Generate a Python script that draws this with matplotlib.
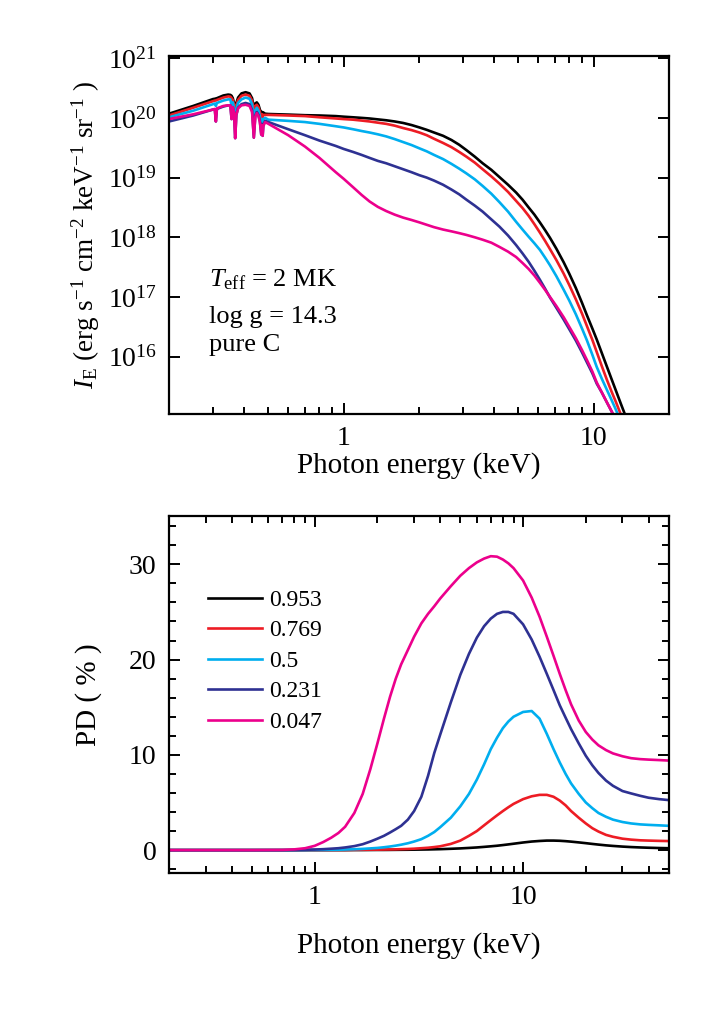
import numpy as np
import matplotlib
matplotlib.use("Agg")
import matplotlib.pyplot as plt
from matplotlib.ticker import LogLocator, NullFormatter, FixedLocator, MultipleLocator, FuncFormatter

plt.rcParams['font.family'] = ['Liberation Serif', 'DejaVu Serif']
plt.rcParams['mathtext.fontset'] = 'custom'
plt.rcParams['mathtext.rm'] = 'Liberation Serif'
plt.rcParams['mathtext.it'] = 'Liberation Serif:italic'
plt.rcParams['mathtext.bf'] = 'Liberation Serif:bold'

# ---------------- data ----------------
labels = ["0.953", "0.769", "0.5", "0.231", "0.047"]
colors = ["#000000", "#ED1C24", "#00AEEF", "#2E3192", "#EC008C"]

# top panel: specific intensity (log10 of I_E)
E_top = [0.20, 0.25, 0.30, 0.305, 0.308, 0.311, 0.33, 0.345, 0.352, 0.356, 0.360, 0.364,
         0.368, 0.372, 0.378, 0.39, 0.405, 0.42, 0.43, 0.437, 0.443, 0.449, 0.456, 0.462,
         0.468, 0.471, 0.474, 0.477, 0.485,
         0.50, 0.60, 0.70, 0.80, 0.93, 1.0, 1.09, 1.18, 1.27, 1.37, 1.48, 1.60, 1.73, 1.87,
         2.01, 2.15, 2.3, 2.5, 2.7, 2.9, 3.1, 3.35, 3.6, 3.9, 4.2, 4.55, 4.9, 5.2, 5.5, 5.8,
         6.1, 6.4, 6.7, 7.1, 7.6, 8.0, 8.5, 9.0, 9.4, 9.9, 10.3, 10.8, 11.3, 11.8, 12.3,
         12.9, 13.4, 14.0, 14.5]
logI_0953 = [20.07, 20.20, 20.315, 20.32, 20.325, 20.33, 20.375, 20.39, 20.385, 20.37, 20.33, 20.25,
             20.15, 20.25, 20.34, 20.41, 20.43, 20.41, 20.33, 20.18, 20.24, 20.26, 20.22, 20.14,
             20.08, 20.10, 20.07, 20.09, 20.07,
             20.065, 20.055, 20.045, 20.04, 20.03, 20.02, 20.01, 20.0, 19.99, 19.975, 19.96, 19.94,
             19.915, 19.88, 19.84, 19.80, 19.755, 19.70, 19.63, 19.55, 19.46, 19.35, 19.24, 19.13,
             19.01, 18.88, 18.75, 18.63, 18.50, 18.38, 18.25, 18.12, 17.99, 17.81, 17.58, 17.39,
             17.15, 16.90, 16.70, 16.47, 16.29, 16.06, 15.84, 15.63, 15.43, 15.20, 15.02, 14.80,
             14.60]
logI_0769 = [20.04, 20.17, 20.28, 20.29, 20.29, 20.30, 20.34, 20.36, 20.355, 20.33, 20.30, 20.22,
             20.10, 20.21, 20.30, 20.37, 20.39, 20.37, 20.29, 20.12, 20.20, 20.22, 20.18, 20.10,
             20.02, 20.06, 20.01, 20.05, 20.05,
             20.05, 20.04, 20.03, 20.01, 19.99, 19.98, 19.97, 19.955, 19.94, 19.92, 19.90, 19.87,
             19.83, 19.795, 19.755, 19.71, 19.65, 19.58, 19.51, 19.43, 19.35, 19.25, 19.14, 19.02,
             18.90, 18.76, 18.61, 18.49, 18.36, 18.22, 18.08, 17.94, 17.80, 17.62, 17.39, 17.20,
             16.96, 16.72, 16.52, 16.28, 16.08, 15.84, 15.62, 15.42, 15.24, 15.02, 14.85, 14.62,
             14.45]
logI_05 = [20.01, 20.12, 20.23, 20.24, 20.20, 20.25, 20.29, 20.31, 20.31, 20.20, 20.26, 20.16,
           19.95, 20.14, 20.25, 20.31, 20.34, 20.32, 20.23, 19.95, 20.13, 20.17, 20.12, 20.02,
           19.90, 19.98, 19.90, 19.98, 20.00,
           19.97, 19.95, 19.93, 19.90, 19.86, 19.84, 19.81, 19.78, 19.755, 19.725, 19.69, 19.645,
           19.595, 19.545, 19.49, 19.44, 19.38, 19.31, 19.23, 19.15, 19.07, 18.97, 18.86, 18.73,
           18.59, 18.43, 18.26, 18.13, 18.01, 17.90, 17.79, 17.66, 17.53, 17.35, 17.12, 16.94,
           16.71, 16.47, 16.28, 16.03, 15.83, 15.63, 15.45, 15.28, 15.11, 14.90, 14.72, 14.50,
           14.30]
logI_0231 = [19.94, 20.04, 20.14, 20.14, 19.94, 20.15, 20.19, 20.21, 20.21, 19.98, 20.18, 20.10,
             19.66, 20.05, 20.17, 20.23, 20.25, 20.23, 20.13, 19.67, 20.04, 20.10, 20.05, 19.95,
             19.72, 19.90, 19.70, 19.88, 19.95,
             19.93, 19.81, 19.71, 19.62, 19.53, 19.48, 19.43, 19.38, 19.33, 19.28, 19.24, 19.19,
             19.14, 19.09, 19.04, 19.00, 18.95, 18.88, 18.80, 18.72, 18.63, 18.53, 18.43, 18.30,
             18.18, 18.03, 17.87, 17.73, 17.59, 17.44, 17.29, 17.14, 16.99, 16.82, 16.62, 16.46,
             16.27, 16.07, 15.91, 15.72, 15.55, 15.40, 15.24, 15.09, 14.94, 14.75, 14.58, 14.40,
             14.20]
logI_0047 = [19.98, 20.06, 20.14, 20.15, 19.94, 20.16, 20.20, 20.21, 20.21, 19.98, 20.18, 20.10,
             19.66, 20.05, 20.16, 20.21, 20.22, 20.20, 20.10, 19.67, 20.02, 20.08, 20.03, 19.93,
             19.72, 19.88, 19.70, 19.86, 19.93,
             19.90, 19.71, 19.52, 19.33, 19.09, 18.98, 18.84, 18.71, 18.60, 18.51, 18.44, 18.38,
             18.33, 18.29, 18.25, 18.21, 18.17, 18.13, 18.10, 18.07, 18.04, 18.00, 17.96, 17.91,
             17.84, 17.76, 17.67, 17.57, 17.47, 17.36, 17.24, 17.12, 17.00, 16.85, 16.66, 16.50,
             16.31, 16.11, 15.95, 15.75, 15.57, 15.40, 15.24, 15.09, 14.94, 14.76, 14.60, 14.40,
             14.20]

# bottom panel: polarization degree (%)
E_pd = [0.2, 0.3, 0.5, 0.7, 0.8, 0.9, 1.0, 1.1, 1.2, 1.3, 1.4, 1.55, 1.7, 1.85, 2.0, 2.15,
        2.3, 2.45, 2.6, 2.8, 3.0, 3.25, 3.5, 3.75, 4.0, 4.5, 5.0, 5.5, 6.0, 6.5, 7.0, 7.5,
        8.0, 8.5, 9.0, 10, 11, 12, 13, 14, 15, 16, 17, 18.5, 20, 21.5, 23, 25, 27, 30,
        33, 36.5, 40, 45, 50]
pd_0953 = [0, 0, 0, 0, 0, 0, 0, 0, 0, 0, 0, 0.01, 0.01, 0.015, 0.02, 0.02,
           0.025, 0.03, 0.035, 0.04, 0.05, 0.06, 0.07, 0.085, 0.10, 0.14, 0.18, 0.23, 0.28, 0.34,
           0.40, 0.46, 0.53, 0.60, 0.67, 0.80, 0.90, 0.96, 1.00, 1.00, 0.98, 0.94, 0.89, 0.81,
           0.73, 0.65, 0.58, 0.50, 0.44, 0.37, 0.32, 0.28, 0.25, 0.22, 0.20]
pd_0769 = [0, 0, 0, 0, 0, 0, 0, 0.01, 0.01, 0.02, 0.02, 0.03, 0.04, 0.05, 0.05, 0.06,
           0.07, 0.08, 0.10, 0.12, 0.15, 0.20, 0.25, 0.32, 0.40, 0.65, 1.0, 1.5, 2.0, 2.6,
           3.15, 3.65, 4.1, 4.5, 4.85, 5.35, 5.65, 5.8, 5.8, 5.6, 5.2, 4.7, 4.1, 3.4,
           2.8, 2.3, 1.95, 1.6, 1.4, 1.2, 1.1, 1.03, 1.0, 0.97, 0.95]
pd_05 = [0, 0, 0, 0, 0, 0, 0.01, 0.02, 0.03, 0.04, 0.06, 0.09, 0.13, 0.18, 0.23, 0.30,
         0.38, 0.47, 0.57, 0.72, 0.90, 1.15, 1.5, 1.9, 2.4, 3.4, 4.6, 5.9, 7.4, 9.0,
         10.6, 11.8, 12.8, 13.5, 14.0, 14.5, 14.6, 13.8, 12.2, 10.6, 9.2, 8.0, 7.0, 5.9,
         5.0, 4.4, 3.9, 3.5, 3.2, 2.95, 2.8, 2.7, 2.65, 2.6, 2.55]
pd_0231 = [0, 0, 0, 0, 0.01, 0.03, 0.06, 0.10, 0.15, 0.20, 0.28, 0.42, 0.62, 0.90, 1.2, 1.5,
           1.85, 2.2, 2.55, 3.2, 4.1, 5.6, 7.8, 10.2, 12.1, 15.5, 18.4, 20.6, 22.3, 23.5,
           24.3, 24.8, 25.0, 25.0, 24.8, 23.7, 22.1, 20.3, 18.5, 16.8, 15.2, 13.9, 12.7, 11.2,
           9.9, 8.9, 8.1, 7.3, 6.75, 6.2, 5.95, 5.7, 5.5, 5.35, 5.25]
pd_0047 = [0, 0, 0, 0.02, 0.08, 0.20, 0.45, 0.85, 1.3, 1.8, 2.45, 3.9, 5.9, 8.5, 11.2, 13.8,
           16.1, 18.0, 19.5, 21.0, 22.4, 23.8, 24.8, 25.6, 26.4, 27.7, 28.8, 29.6, 30.2, 30.6,
           30.85, 30.8, 30.5, 30.1, 29.6, 28.3, 26.5, 24.5, 22.4, 20.4, 18.5, 16.8, 15.3, 13.6,
           12.4, 11.6, 11.0, 10.5, 10.15, 9.85, 9.65, 9.55, 9.5, 9.45, 9.4]

logI_all = [logI_0953, logI_0769, logI_05, logI_0231, logI_0047]
pd_all = [pd_0953, pd_0769, pd_05, pd_0231, pd_0047]

# ---------------- figure ----------------
fig = plt.figure(figsize=(7.06, 10.09), dpi=100)
ax1 = fig.add_axes([0.2394, 0.5897, 0.7078, 0.3551])
ax2 = fig.add_axes([0.2394, 0.1348, 0.7078, 0.3541])

lw = 1.9
for y, c in zip(logI_all, colors):
    ax1.plot(E_top, 10 ** np.array(y), color=c, lw=lw)
for y, c, l in zip(pd_all, colors, labels):
    ax2.plot(E_pd, y, color=c, lw=lw, label=l)

tick_fs = 20
for ax in (ax1, ax2):
    ax.set_xscale('log')
    for s in ax.spines.values():
        s.set_linewidth(1.6)
    ax.tick_params(which='both', direction='in', top=True, right=True, width=1.4)
    ax.tick_params(which='major', length=8, labelsize=tick_fs)
    ax.tick_params(which='minor', length=5)
    ax.tick_params(axis='x', which='major', pad=9)
    ax.tick_params(axis='y', which='major', pad=9)
    ax.xaxis.set_major_locator(FixedLocator([1, 10]))
    ax.xaxis.set_major_formatter(FuncFormatter(lambda v, p: "%d" % v))
    ax.xaxis.set_minor_locator(LogLocator(base=10, subs=np.arange(2, 10), numticks=20))
    ax.xaxis.set_minor_formatter(NullFormatter())

# top panel
ax1.set_yscale('log')
ax1.set_xlim(0.2, 20)
ax1.set_ylim(1.1e15, 1.1e21)
ax1.yaxis.set_major_locator(FixedLocator([1e16, 1e17, 1e18, 1e19, 1e20, 1e21]))
ax1.yaxis.set_major_formatter(FuncFormatter(lambda v, p: r"$10^{%d}$" % round(np.log10(v))))
ax1.yaxis.set_minor_locator(FixedLocator([]))
ax1.set_xlabel("Photon energy (keV)", fontsize=21)
ax1.xaxis.set_label_coords(0.5, -0.105)
ax1.set_ylabel(r"$I_{\rm E}$ (erg s$^{-1}$ cm$^{-2}$ keV$^{-1}$ sr$^{-1}$ )", fontsize=19.5)
ax1.yaxis.set_label_coords(-0.135, 0.5)
ax1.text(0.08, 0.355, r"$T_{\rm eff}$ = 2 MK", transform=ax1.transAxes, fontsize=19, va='baseline')
ax1.text(0.08, 0.255, "log g = 14.3", transform=ax1.transAxes, fontsize=19, va='baseline')
ax1.text(0.08, 0.175, "pure C", transform=ax1.transAxes, fontsize=19, va='baseline')

# bottom panel
ax2.set_xlim(0.2, 50)
ax2.set_ylim(-2.4, 35.1)
ax2.yaxis.set_major_locator(MultipleLocator(10))
ax2.yaxis.set_minor_locator(MultipleLocator(2))
ax2.set_xlabel("Photon energy (keV)", fontsize=21)
ax2.xaxis.set_label_coords(0.5, -0.165)
ax2.set_ylabel("PD ( % )", fontsize=21)
ax2.yaxis.set_label_coords(-0.135, 0.5)
leg = ax2.legend(loc='upper left', bbox_to_anchor=(0.06, 0.82), frameon=False, fontsize=17,
                 handlelength=2.25, handletextpad=0.3, labelspacing=0.38, borderaxespad=0)

fig.savefig("out.png", dpi=100)
